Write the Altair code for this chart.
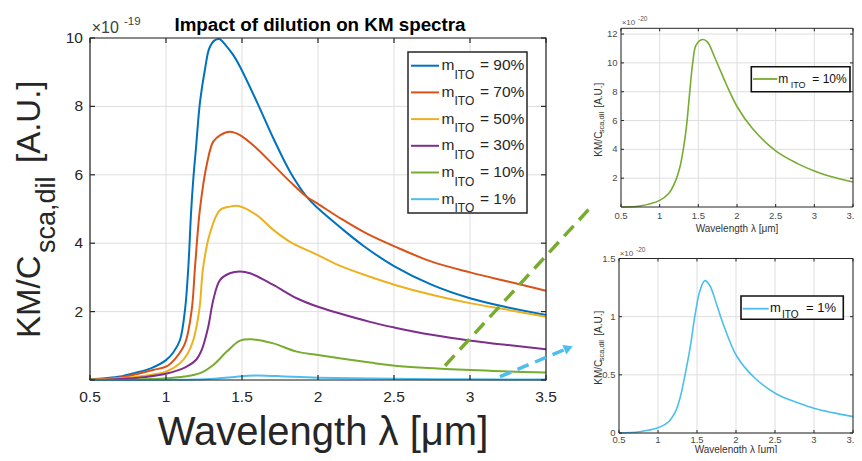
import altair as alt
import pandas as pd

# ---------------- data ----------------
series_names = ["90%", "70%", "50%", "30%", "10%", "1%"]
series_colors = ["#0072BD", "#D95319", "#EDB120", "#7E2F8E", "#77AC30", "#4DBEEE"]

wl_90 = [0.5, 0.6, 0.7, 0.79, 0.9, 1.0, 1.05, 1.092, 1.125, 1.147, 1.165, 1.18, 1.197, 1.224, 1.257, 1.285, 1.32, 1.351, 1.40, 1.443, 1.487, 1.597, 1.706, 1.816, 1.925, 2.0, 2.15, 2.3, 2.5, 2.75, 3.0, 3.25, 3.5]
km_90 = [0.02, 0.05, 0.10, 0.20, 0.34, 0.58, 0.82, 1.17, 2.05, 3.31, 4.9, 5.9, 6.77, 8.14, 9.1, 9.7, 9.93, 9.97, 9.75, 9.5, 9.16, 8.14, 7.07, 6.09, 5.36, 5.02, 4.45, 3.92, 3.33, 2.78, 2.39, 2.12, 1.90]

wl_70 = [0.5, 0.6, 0.7, 0.83, 0.92, 1.0, 1.06, 1.125, 1.169, 1.191, 1.224, 1.272, 1.311, 1.36, 1.421, 1.487, 1.597, 1.706, 1.816, 1.925, 2.0, 2.15, 2.309, 2.507, 2.748, 3.007, 3.25, 3.5]
km_70 = [0.01, 0.03, 0.07, 0.2, 0.3, 0.39, 0.62, 1.07, 2.05, 3.31, 5.02, 6.38, 6.97, 7.17, 7.26, 7.16, 6.77, 6.29, 5.80, 5.36, 5.15, 4.72, 4.31, 3.90, 3.46, 3.14, 2.88, 2.61]

wl_50 = [0.5, 0.7, 0.85, 1.0, 1.092, 1.14, 1.18, 1.219, 1.245, 1.289, 1.355, 1.42, 1.476, 1.597, 1.706, 1.816, 2.0, 2.15, 2.342, 2.507, 2.748, 3.007, 3.25, 3.5]
km_50 = [0.01, 0.05, 0.12, 0.24, 0.49, 0.75, 1.17, 2.05, 3.31, 4.29, 4.97, 5.07, 5.09, 4.82, 4.39, 4.04, 3.65, 3.33, 3.02, 2.78, 2.49, 2.24, 2.05, 1.85]

wl_30 = [0.5, 0.7, 0.85, 1.0, 1.136, 1.2, 1.235, 1.278, 1.311, 1.355, 1.42, 1.487, 1.553, 1.706, 1.86, 2.0, 2.342, 2.507, 2.748, 3.007, 3.25, 3.5]
km_30 = [0.0, 0.03, 0.08, 0.18, 0.39, 0.6, 0.88, 1.56, 2.34, 2.92, 3.12, 3.17, 3.12, 2.78, 2.39, 2.14, 1.70, 1.53, 1.32, 1.15, 1.02, 0.90]

wl_10 = [0.5, 0.8, 1.0, 1.12, 1.224, 1.311, 1.4, 1.487, 1.56, 1.706, 1.86, 2.0, 2.342, 2.507, 3.007, 3.25, 3.5]
km_10 = [0.0, 0.01, 0.05, 0.1, 0.2, 0.44, 0.83, 1.15, 1.19, 1.07, 0.83, 0.73, 0.51, 0.42, 0.29, 0.25, 0.22]

wl_1 = [0.5, 0.76, 1.0, 1.14, 1.22, 1.29, 1.35, 1.41, 1.475, 1.54, 1.6, 1.66, 1.75, 1.83, 2.0, 2.23, 2.5, 2.8, 3.0, 3.24, 3.5]
km_1 = [0.0, 0.001, 0.004, 0.01, 0.018, 0.031, 0.051, 0.073, 0.10, 0.122, 0.131, 0.127, 0.111, 0.094, 0.066, 0.048, 0.034, 0.025, 0.021, 0.0175, 0.014]

# insets (units of 1e-20)
wl_in10 = [0.5, 0.742, 1.0, 1.117, 1.2, 1.262, 1.304, 1.346, 1.387, 1.429, 1.471, 1.554, 1.617, 1.7, 1.783, 1.867, 2.004, 2.2, 2.5, 2.783, 3.0, 3.2, 3.5]
km_in10 = [0.0, 0.07, 0.46, 0.93, 1.74, 2.78, 3.94, 5.56, 7.87, 10.07, 11.23, 11.62, 11.46, 10.53, 9.49, 8.45, 6.94, 5.44, 3.89, 3.01, 2.5, 2.13, 1.74]

wl_in1 = [0.5, 0.76, 0.99, 1.139, 1.223, 1.286, 1.349, 1.412, 1.475, 1.538, 1.601, 1.664, 1.748, 1.832, 2.008, 2.231, 2.513, 2.819, 3.008, 3.239, 3.5]
km_in1 = [0.0, 0.011, 0.042, 0.099, 0.183, 0.31, 0.507, 0.733, 1.015, 1.225, 1.31, 1.268, 1.113, 0.944, 0.662, 0.479, 0.338, 0.254, 0.211, 0.175, 0.141]

x_ticks = [0.5, 1, 1.5, 2, 2.5, 3, 3.5]
x_tick_labels = ["0.5", "1", "1.5", "2", "2.5", "3", "3.5"]
main_y_ticks = [0, 2, 4, 6, 8, 10]
main_y_label_vals = [2, 4, 6, 8, 10]
main_y_labels = ["2", "4", "6", "8", "10"]
in10_y_ticks = [2, 4, 6, 8, 10, 12]
in10_y_labels = ["2", "4", "6", "8", "10", "12"]
in1_y_ticks = [0, 0.5, 1, 1.5]
in1_y_labels = ["0", "0.5", "1", "1.5"]

title_text = "Impact of dilution on KM spectra"
x_title = "Wavelength λ [μm]"
y_title_parts = ["KM/C", "sca,dil", "[A.U.]"]
legend_m, legend_sub = "m", "ITO"
exp_main = ["×10", "-19"]
exp_inset = ["×10", "-20"]

# ---------------- style ----------------
W, H = 846, 445
FONT = "Liberation Sans"
DARK = "#262626"
GRID = "#dedede"
INTERP = "catmull-rom"
ONE = pd.DataFrame({"d": [0]})

L = []


def txt(s, x, y, size, angle=0, align="left", baseline="alphabetic", weight="normal", color=DARK):
    kw = dict(align=align, baseline=baseline, fontSize=size, font=FONT, color=color, fontWeight=weight)
    if angle:
        kw["angle"] = angle
    return alt.Chart(pd.DataFrame({"s": [s]})).mark_text(**kw).encode(
        text="s:N", x=alt.value(x), y=alt.value(y))


def scales(x0, x1, yt, yb, ydom):
    return (alt.Scale(domain=[0.5, 3.5], range=[x0, x1], nice=False, zero=False),
            alt.Scale(domain=ydom, range=[yb, yt], nice=False, zero=False))


def grid(xs, ys, x0, x1, yt, yb, yticks):
    xt = pd.DataFrame({"t": x_ticks})
    yd = pd.DataFrame({"t": yticks})
    return [
        alt.Chart(xt).mark_rule(color=GRID, strokeWidth=1).encode(
            x=alt.X("t:Q", scale=xs, axis=None), y=alt.value(yt), y2=alt.value(yb)),
        alt.Chart(yd).mark_rule(color=GRID, strokeWidth=1).encode(
            y=alt.Y("t:Q", scale=ys, axis=None), x=alt.value(x0), x2=alt.value(x1)),
    ]


def frame(xs, ys, x0, x1, yt, yb, yticks, tl, sw):
    xt = pd.DataFrame({"t": x_ticks})
    yd = pd.DataFrame({"t": yticks})
    out = [alt.Chart(ONE).mark_rect(fillOpacity=0, stroke=DARK, strokeWidth=sw).encode(
        x=alt.value(x0), x2=alt.value(x1), y=alt.value(yt), y2=alt.value(yb))]
    for a, b in [(yb, yb - tl), (yt, yt + tl)]:
        out.append(alt.Chart(xt).mark_rule(color=DARK, strokeWidth=sw).encode(
            x=alt.X("t:Q", scale=xs, axis=None), y=alt.value(a), y2=alt.value(b)))
    for a, b in [(x0, x0 + tl), (x1, x1 - tl)]:
        out.append(alt.Chart(yd).mark_rule(color=DARK, strokeWidth=sw).encode(
            y=alt.Y("t:Q", scale=ys, axis=None), x=alt.value(a), x2=alt.value(b)))
    return out


def tick_labels(xs, ys, x_right, xbase, yvals, ylabels, size, color):
    xt = pd.DataFrame({"t": x_ticks, "lab": x_tick_labels})
    yd = pd.DataFrame({"t": yvals, "lab": ylabels})
    return [
        alt.Chart(xt).mark_text(align="center", baseline="alphabetic", fontSize=size, font=FONT, color=color).encode(
            x=alt.X("t:Q", scale=xs, axis=None), y=alt.value(xbase), text="lab:N"),
        alt.Chart(yd).mark_text(align="right", baseline="middle", fontSize=size, font=FONT, color=color).encode(
            y=alt.Y("t:Q", scale=ys, axis=None), x=alt.value(x_right), text="lab:N"),
    ]


# ---------------- main panel ----------------
mx0, mx1, myt, myb = 82, 538, 30, 372
xs, ys = scales(mx0, mx1, myt, myb, [0, 10])
L += grid(xs, ys, mx0, mx1, myt, myb, main_y_ticks)

rows = []
for name, wl, km in zip(series_names,
                        [wl_90, wl_70, wl_50, wl_30, wl_10, wl_1],
                        [km_90, km_70, km_50, km_30, km_10, km_1]):
    for a, b in zip(wl, km):
        rows.append({"series": name, "wl": a, "km": b})
main_df = pd.DataFrame(rows)
L.append(alt.Chart(main_df).mark_line(strokeWidth=2, interpolate=INTERP).encode(
    x=alt.X("wl:Q", scale=xs, axis=None),
    y=alt.Y("km:Q", scale=ys, axis=None),
    color=alt.Color("series:N", scale=alt.Scale(domain=series_names, range=series_colors), legend=None),
    detail="series:N"))
L += frame(xs, ys, mx0, mx1, myt, myb, main_y_ticks, 5, 1.2)
L += tick_labels(xs, ys, 75, 394, main_y_label_vals, main_y_labels, 15.5, DARK)
L.append(txt(title_text, 312, 22.7, 18.8, align="center", weight="bold", color="#000000"))
L.append(txt(exp_main[0], 83.7, 25.3, 16, color="#404040"))
L.append(txt(exp_main[1], 116, 17, 11.5, color="#404040"))
L.append(txt(x_title, 315, 436.8, 40, align="center"))
L.append(txt(y_title_parts[0], 32, 330, 33, angle=270))
L.append(txt(y_title_parts[1], 47, 245, 27, angle=270))
L.append(txt(y_title_parts[2], 32, 155, 33, angle=270))

# main legend
L.append(alt.Chart(ONE).mark_rect(fill="white", stroke=DARK, strokeWidth=1.5).encode(
    x=alt.value(400), x2=alt.value(519), y=alt.value(44), y2=alt.value(205)))
for i, (name, col) in enumerate(zip(series_names, series_colors)):
    ly = 57.7 + i * 26.7
    L.append(alt.Chart(ONE).mark_rule(color=col, strokeWidth=2).encode(
        x=alt.value(403), x2=alt.value(431), y=alt.value(ly)))
    L.append(txt(legend_m, 433.5, ly + 4.5, 15.5))
    L.append(txt(legend_sub, 446.5, ly + 13, 12))
    L.append(txt("= " + name, 472, ly + 4.5, 15.5))


# ---------------- insets ----------------
def inset(x0, x1, yt, yb, ydom, yticks, ylabels, wl, km, col, name, lab_base, title_base, exp_y, box, leg, dx):
    xs, ys = scales(x0, x1, yt, yb, ydom)
    out = grid(xs, ys, x0, x1, yt, yb, yticks)
    df = pd.DataFrame({"wl": wl, "km": km})
    out.append(alt.Chart(df).mark_line(strokeWidth=1.6, interpolate=INTERP, color=col).encode(
        x=alt.X("wl:Q", scale=xs, axis=None), y=alt.Y("km:Q", scale=ys, axis=None)))
    out += frame(xs, ys, x0, x1, yt, yb, yticks, 3, 1)
    out += tick_labels(xs, ys, x0 - 3.5, lab_base, yticks, ylabels, 9.5, "#4a4a4a")
    out.append(txt(exp_inset[0], x0 + 0.7, exp_y, 8, color="#555555"))
    out.append(txt(exp_inset[1], x0 + 17, exp_y - 4.5, 6.5, color="#555555"))
    cy = (yt + yb) / 2
    out.append(txt(y_title_parts[0], 593.7, cy + 39, 10, angle=270, color="#333333"))
    out.append(txt(y_title_parts[1], 596.2, cy + 15.5, 7.5, angle=270, color="#333333"))
    out.append(txt(y_title_parts[2], 593.7, cy - 10, 10, angle=270, color="#333333"))
    out.append(txt(x_title, (x0 + x1) / 2, title_base, 10, align="center", color="#333333"))
    bx0, by0, bx1, by1 = box
    out.append(alt.Chart(ONE).mark_rect(fill="white", stroke="#111111", strokeWidth=1.6).encode(
        x=alt.value(bx0 + dx), x2=alt.value(bx1 + dx), y=alt.value(by0), y2=alt.value(by1)))
    lx0, lx1, ly, mx, sx, rx, fs, sfs = leg
    out.append(alt.Chart(ONE).mark_rule(color=col, strokeWidth=1.8).encode(
        x=alt.value(lx0 + dx), x2=alt.value(lx1 + dx), y=alt.value(ly)))
    out.append(txt(legend_m, mx + dx, ly + 3.7, fs, color="#111111"))
    out.append(txt(legend_sub, sx + dx, ly + 9.3, sfs, color="#111111"))
    out.append(txt("= " + name, rx + dx, ly + 3.7, fs, color="#111111"))
    return out


L += inset(613, 845, 20.3, 199, [0, 12.4], in10_y_ticks, in10_y_labels, wl_in10, km_in10,
           series_colors[4], series_names[4], 211.3, 224, 17,
           (749.3, 58.7, 848, 83.7), (751, 775.3, 71, 776.3, 788.7, 810.3, 12, 9), -6)
L += inset(611, 845, 250.5, 425, [0, 1.5], in1_y_ticks, in1_y_labels, wl_in1, km_in1,
           series_colors[5], series_names[5], 435, 445, 248,
           (737, 288, 839.3, 311.3), (738.7, 764.7, 300.7, 766, 778, 802, 13, 10), -4)

# ---------------- connecting arrows ----------------
L.append(alt.Chart(ONE).mark_rule(color=series_colors[4], strokeWidth=3.5, strokeDash=[14, 8]).encode(
    x=alt.value(437), y=alt.value(357.7), x2=alt.value(582.5), y2=alt.value(199.5)))
L.append(alt.Chart(ONE).mark_rule(color=series_colors[5], strokeWidth=3.5, strokeDash=[12, 7]).encode(
    x=alt.value(492), y=alt.value(368.7), x2=alt.value(558), y2=alt.value(341)))
L.append(alt.Chart(ONE).mark_point(shape="triangle-right", filled=True, size=110, opacity=1,
                                   color=series_colors[5], angle=337).encode(
    x=alt.value(560.5), y=alt.value(340)))

chart = alt.layer(*L).resolve_scale(
    x="independent", y="independent", color="independent"
).properties(
    width=W, height=H, padding=0, autosize=alt.AutoSizeParams(type="none")
).configure_view(strokeWidth=0)

chart.save("out.html", embed_options={"renderer": "svg", "actions": False})
